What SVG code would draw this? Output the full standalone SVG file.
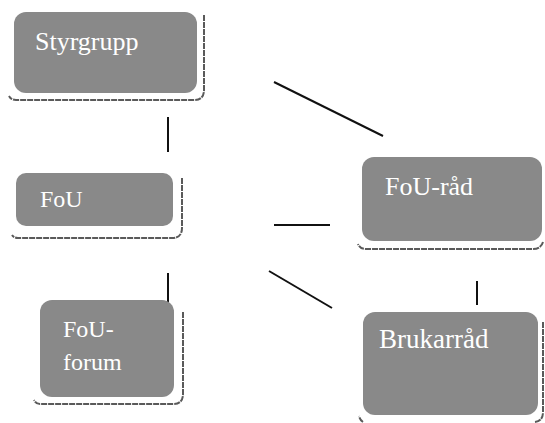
<svg xmlns="http://www.w3.org/2000/svg" width="545" height="423" viewBox="0 0 545 423">
<style>
.box{fill:#898989}
.shadow{fill:none;stroke:#5a5a5a;stroke-width:2;stroke-dasharray:6 1}
.lbl{font-family:"Liberation Serif","DejaVu Serif","Times New Roman",serif;font-size:24px;fill:#fff}
.conn line{stroke:#111;stroke-width:2}
</style>
<rect width="545" height="423" fill="#fff"/>
<g class="conn">
<line x1="168" y1="117" x2="168" y2="152"/>
<line x1="274" y1="82" x2="383" y2="136"/>
<line x1="274" y1="225" x2="330" y2="225"/>
<line x1="269" y1="271" x2="332" y2="308"/>
<line x1="168" y1="273" x2="168" y2="304"/>
<line x1="477" y1="281" x2="477" y2="305"/>
</g>
<g id="styrgrupp">
<path class="shadow" d="M204 15 V90 Q204 100 194 100 H16 Q11 100 9 96"/>
<rect class="box" x="14" y="12" width="183" height="81" rx="12"/>
<text class="lbl" x="35" y="50" style="font-size:26px">Styrgrupp</text>
</g>
<g id="fou">
<path class="shadow" d="M182 178 V228 Q182 238 172 238 H18 Q14 238 12 235"/>
<rect class="box" x="16" y="173" width="157" height="53" rx="10"/>
<text class="lbl" x="40" y="207">FoU</text>
</g>
<g id="fou-forum">
<path class="shadow" d="M183 312 V394 Q183 404 173 404 H40 Q36 404 34 400"/>
<rect class="box" x="40" y="300" width="134" height="97" rx="12"/>
<text class="lbl" x="63" y="337">FoU-</text>
<text class="lbl" x="63" y="370">forum</text>
</g>
<g id="fou-rad">
<path class="shadow" d="M543 242 Q541 249 533 249 H366 Q360 249 358 244"/>
<rect class="box" x="362" y="157" width="180" height="84" rx="12"/>
<text class="lbl" x="385" y="195" style="font-size:26px">FoU-råd</text>
</g>
<g id="brukarrad">
<path class="shadow" d="M543 322 V412 Q543 421 535 422 M363 422 Q360 420 359 416"/>
<rect class="box" x="363" y="312" width="175" height="103" rx="12"/>
<text class="lbl" x="379" y="348" style="font-size:27px">Brukarråd</text>
</g>
</svg>
